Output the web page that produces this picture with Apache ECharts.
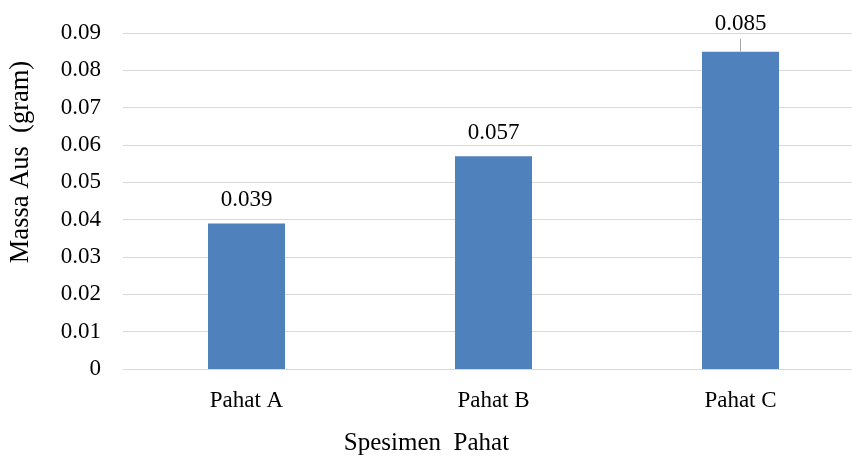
<!DOCTYPE html>
<html>
<head>
<meta charset="utf-8">
<script src="https://cdn.jsdelivr.net/npm/echarts@6/dist/echarts.min.js"></script>
<style>
  html, body { margin: 0; padding: 0; background: #fff; }
  #chart { width: 852px; height: 459px; }
</style>
</head>
<body>
<div id="chart"></div>
<script>
// Wear mass per cutting tool specimen
const categories = ['Pahat A', 'Pahat B', 'Pahat C'];
const wearMass = [0.039, 0.057, 0.085];
const yTicks = [0, 0.01, 0.02, 0.03, 0.04, 0.05, 0.06, 0.07, 0.08, 0.09];
// specimens whose value label sits higher with a short leader line
const leaderIndex = [2];

const FONT = '"Liberation Serif", "Times New Roman", serif';

const chart = echarts.init(document.getElementById('chart'));

const barData = wearMass.map((v, i) => {
  const item = { value: v };
  if (leaderIndex.includes(i)) {
    item.label = { distance: 16 };
  }
  return item;
});

chart.setOption({
  animation: false,
  grid: {
    left: 123, top: 33, right: -12, bottom: 90,
    containLabel: false,
    outerBoundsMode: 'none'
  },
  xAxis: {
    type: 'category',
    data: categories,
    name: 'Spesimen  Pahat',
    nameLocation: 'middle',
    nameGap: 62,
    nameTextStyle: { fontFamily: FONT, fontSize: 25, color: '#000', padding: [0, 134, 0, 0] },
    axisTick: { show: false },
    axisLine: { show: true, lineStyle: { color: '#d9d9d9', width: 1 } },
    axisLabel: { fontFamily: FONT, fontSize: 23, color: '#000', margin: 20, interval: 0 }
  },
  yAxis: {
    type: 'value',
    min: yTicks[0],
    max: yTicks[yTicks.length - 1],
    interval: 0.01,
    name: 'Massa Aus  (gram)',
    nameLocation: 'middle',
    nameGap: 88,
    nameTextStyle: { fontFamily: FONT, fontSize: 26.5, color: '#000', padding: [0, 0, 0, 78] },
    axisLine: { show: false },
    axisTick: { show: false },
    splitLine: { lineStyle: { color: '#d9d9d9', width: 1 } },
    axisLabel: {
      fontFamily: FONT, fontSize: 23, color: '#000', margin: 22,
      formatter: v => {
        const t = yTicks.find(x => Math.abs(x - v) < 1e-9);
        return t === 0 ? '0' : (t !== undefined ? t.toFixed(2) : '');
      }
    }
  },
  series: [
    {
      type: 'bar',
      data: barData,
      barWidth: 77,
      itemStyle: { color: '#4f81bd' },
      label: {
        show: true,
        position: 'top',
        distance: 12,
        fontFamily: FONT,
        fontSize: 23,
        color: '#000',
        formatter: p => String(p.value)
      }
    },
    {
      // short leader lines from bar tops toward raised labels
      type: 'custom',
      data: leaderIndex.map(i => [i, wearMass[i]]),
      silent: true,
      z: 3,
      renderItem: (params, api) => {
        const p = api.coord([api.value(0), api.value(1)]);
        return {
          type: 'line',
          shape: { x1: p[0], y1: p[1], x2: p[0], y2: p[1] - 13 },
          style: { stroke: '#a6a6a6', lineWidth: 1 }
        };
      }
    }
  ]
});
</script>
</body>
</html>
